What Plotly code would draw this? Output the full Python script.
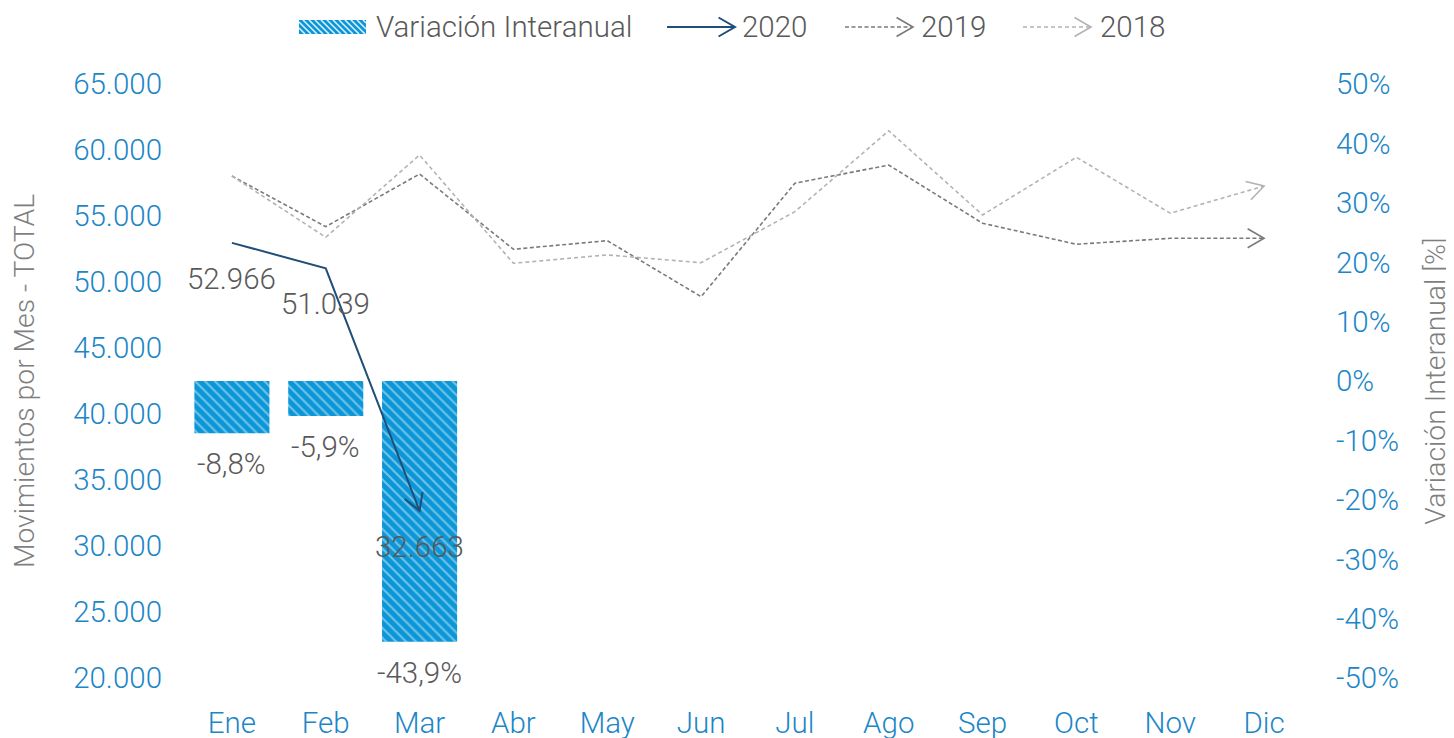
import math
import plotly.graph_objects as go

# ---------------- data ----------------
meses = ["Ene", "Feb", "Mar", "Abr", "May", "Jun", "Jul", "Ago", "Sep", "Oct", "Nov", "Dic"]
mov_2020 = [52966, 51039, 32663]
var_interanual = [-0.088, -0.059, -0.439]
mov_2019 = [58030, 54190, 58180, 52480, 53130, 48890, 57480, 58860, 54450, 52860, 53310, 53310]
mov_2018 = [58030, 53390, 59620, 51420, 52050, 51460, 55330, 61460, 55080, 59450, 55210, 57270]
y_left_ticks = [20000, 25000, 30000, 35000, 40000, 45000, 50000, 55000, 60000, 65000]
y_right_ticks = [-0.5, -0.4, -0.3, -0.2, -0.1, 0.0, 0.1, 0.2, 0.3, 0.4, 0.5]
y_right_ticktext = ["-50%", "-40%", "-30%", "-20%", "-10%", "0%", "10%", "20%", "30%", "40%", "50%"]
legend_names = ["Variación Interanual", "2020", "2019", "2018"]

# ---------------- layout constants ----------------
OFF = 8                      # default page (body) margin of the html page
W, H = 1454 - OFF, 738 - OFF
PAGE_L, PAGE_R, PAGE_T, PAGE_B = 185, 1311, 84, 678   # plot area in page pixels
ML = PAGE_L - OFF
MT = PAGE_T - OFF
MR = W - (PAGE_R - OFF)
MB = H - (PAGE_B - OFF)
X_RANGE = [-0.5, 11.5]
Y_RANGE = [20000, 65000]
Y2_RANGE = [-0.5, 0.5]

FONT = "Roboto"
FS = 29.5
FS_TITLE = 28.3
BLUE_TXT = "#1c86c7"
GRAY_TXT = "#595959"
TITLE_TXT = "#7f7f7f"
C2020 = "#1f4e79"
C2019 = "#7a7a7a"
C2018 = "#b3b3b3"
BAR_C = "#0a96d7"
STRIPE_C = "#dcf0fa"
DASH_2019 = "4px,2.5px"
DASH_2018 = "4px,3px"
ARM = 19
HALF = math.radians(30)

PW = PAGE_R - PAGE_L
PH = PAGE_B - PAGE_T


def to_px(x, y):
    px = PAGE_L + (x - X_RANGE[0]) / (X_RANGE[1] - X_RANGE[0]) * PW
    py = PAGE_T + (Y_RANGE[1] - y) / (Y_RANGE[1] - Y_RANGE[0]) * PH
    return px, py


def to_data(px, py):
    x = X_RANGE[0] + (px - PAGE_L) / PW * (X_RANGE[1] - X_RANGE[0])
    y = Y_RANGE[1] - (py - PAGE_T) / PH * (Y_RANGE[1] - Y_RANGE[0])
    return x, y


def px2paper(px, py):
    return (px - PAGE_L) / PW, 1 - (py - PAGE_T) / PH


def arms_px(x0, y0, x1, y1):
    dx, dy = x1 - x0, y1 - y0
    n = math.hypot(dx, dy)
    a, b = -dx / n, -dy / n
    pts = []
    for s in (1, -1):
        th = s * HALF
        rx = a * math.cos(th) - b * math.sin(th)
        ry = a * math.sin(th) + b * math.cos(th)
        pts.append((x1 + rx * ARM, y1 + ry * ARM))
    return pts


def chevron(xs, ys):
    x0, y0 = to_px(xs[-2], ys[-2])
    x1, y1 = to_px(xs[-1], ys[-1])
    (ax, ay), (bx, by) = arms_px(x0, y0, x1, y1)
    pa = to_data(ax, ay)
    pb = to_data(bx, by)
    return [pa[0], xs[-1], pb[0]], [pa[1], ys[-1], pb[1]]


def fmt_miles(v):
    return f"{v:,}".replace(",", ".")


def fmt_pct(v):
    return f"{v * 100:.1f}%".replace(".", ",")


x_all = list(range(len(meses)))
x_2020 = x_all[:len(mov_2020)]
x_var = x_all[:len(var_interanual)]

fig = go.Figure()

# bars on base axis (y, right side) so that lines (y2, overlay) are drawn on top
fig.add_trace(go.Bar(
    x=x_var, y=var_interanual, yaxis="y", name=legend_names[0],
    width=0.8, showlegend=False,
    marker=dict(color=BAR_C, line=dict(width=0),
                pattern=dict(shape="\\", fgcolor=STRIPE_C, bgcolor=BAR_C,
                             size=7, solidity=0.28, fillmode="overlay")),
))

series = [
    (legend_names[1], x_2020, mov_2020, C2020, "solid", 2),
    (legend_names[2], x_all, mov_2019, C2019, DASH_2019, 1.6),
    (legend_names[3], x_all, mov_2018, C2018, DASH_2018, 1.6),
]
for name, xs, ys, col, dash, w in series:
    fig.add_trace(go.Scatter(
        x=xs, y=ys, yaxis="y2", mode="lines", name=name, showlegend=False,
        line=dict(color=col, width=w, dash=dash),
    ))
    cx, cy = chevron(xs, ys)
    fig.add_trace(go.Scatter(
        x=cx, y=cy, yaxis="y2", mode="lines", showlegend=False, hoverinfo="skip",
        line=dict(color=col, width=w),
    ))

lbl_font = dict(family=FONT, size=FS, color=GRAY_TXT, weight=300)
annotations = []
for xi, v in zip(x_2020, mov_2020):
    annotations.append(dict(x=xi, y=v, xref="x", yref="y2", text=fmt_miles(v),
                            showarrow=False, yshift=-36, font=lbl_font))
for xi, v in zip(x_var, var_interanual):
    annotations.append(dict(x=xi, y=v, xref="x", yref="y", text=fmt_pct(v),
                            showarrow=False, yshift=-31, font=lbl_font))

# ---------------- custom legend (top) ----------------
LEG_Y = 27
shapes = []
sx0, sx1, sy0, sy1 = 299, 366, LEG_Y - 7, LEG_Y + 7
p0 = px2paper(sx0, sy1)
p1 = px2paper(sx1, sy0)
shapes.append(dict(type="rect", xref="paper", yref="paper", x0=p0[0], y0=p0[1],
                   x1=p1[0], y1=p1[1], fillcolor=BAR_C, line=dict(width=0), layer="above"))
hgt = sy1 - sy0
path = ""
u = sx0 - hgt
while u < sx1:
    xa, ya = u, sy0
    xb, yb = u + hgt, sy1
    if xa < sx0:
        ya = sy0 + (sx0 - xa)
        xa = sx0
    if xb > sx1:
        yb = sy0 + (sx1 - u)
        xb = sx1
    if xb > xa:
        qa = px2paper(xa, ya)
        qb = px2paper(xb, yb)
        path += f"M{qa[0]:.5f},{qa[1]:.5f}L{qb[0]:.5f},{qb[1]:.5f}"
    u += 6
shapes.append(dict(type="path", xref="paper", yref="paper", path=path,
                   line=dict(color=STRIPE_C, width=1.6), layer="above"))
annotations.append(dict(x=px2paper(374, 0)[0], y=px2paper(0, LEG_Y)[1], xref="paper", yref="paper",
                        text=legend_names[0], showarrow=False, xanchor="left", yanchor="middle",
                        font=lbl_font))

leg_lines = [
    (667, 735, 740, legend_names[1], C2020, "solid", 2),
    (845, 913, 919, legend_names[2], C2019, DASH_2019, 1.6),
    (1023, 1091, 1098, legend_names[3], C2018, DASH_2018, 1.6),
]
for lx0, lx1, tx, name, col, dash, w in leg_lines:
    a = px2paper(lx0, LEG_Y)
    b = px2paper(lx1, LEG_Y)
    shapes.append(dict(type="line", xref="paper", yref="paper", x0=a[0], y0=a[1], x1=b[0], y1=b[1],
                       line=dict(color=col, width=w, dash=dash), layer="above"))
    (ax_, ay_), (bx_, by_) = arms_px(lx0, LEG_Y, lx1, LEG_Y)
    qa = px2paper(ax_, ay_)
    qb = px2paper(bx_, by_)
    shapes.append(dict(type="path", xref="paper", yref="paper",
                       path=f"M{qa[0]:.5f},{qa[1]:.5f}L{b[0]:.5f},{b[1]:.5f}L{qb[0]:.5f},{qb[1]:.5f}",
                       line=dict(color=col, width=w), layer="above"))
    annotations.append(dict(x=px2paper(tx, 0)[0], y=a[1], xref="paper", yref="paper",
                            text=name, showarrow=False, xanchor="left", yanchor="middle",
                            font=lbl_font))

tick_font = dict(family=FONT, size=FS, color=BLUE_TXT, weight=300)
title_font = dict(family=FONT, size=FS_TITLE, color=TITLE_TXT, weight=300)

fig.update_layout(
    width=W, height=H,
    margin=dict(l=ML, r=MR, t=MT, b=MB, autoexpand=False),
    paper_bgcolor="white", plot_bgcolor="white",
    font=dict(family=FONT, size=FS, color=GRAY_TXT, weight=300),
    separators=",.",
    showlegend=False,
    xaxis=dict(range=X_RANGE, tickvals=x_all, ticktext=meses, showgrid=False,
               zeroline=False, showline=False, ticks="", automargin=False,
               tickfont=tick_font, ticklabelstandoff=24),
    yaxis=dict(range=Y2_RANGE, side="right",
               tickvals=y_right_ticks, ticktext=y_right_ticktext, showgrid=False,
               zeroline=False, showline=False, ticks="", automargin=False,
               tickfont=tick_font, ticklabelstandoff=24,
               title=dict(text="Variación Interanual [%]", standoff=27, font=title_font)),
    yaxis2=dict(range=Y_RANGE, overlaying="y", side="left",
                tickvals=y_left_ticks, tickformat=",d", showgrid=False,
                zeroline=False, showline=False, ticks="", automargin=False,
                tickfont=tick_font, ticklabelstandoff=22,
                title=dict(text="Movimientos por Mes - TOTAL", standoff=36, font=title_font)),
    annotations=annotations,
    shapes=shapes,
    bargap=0.2,
)

fig.write_html("out.html")
